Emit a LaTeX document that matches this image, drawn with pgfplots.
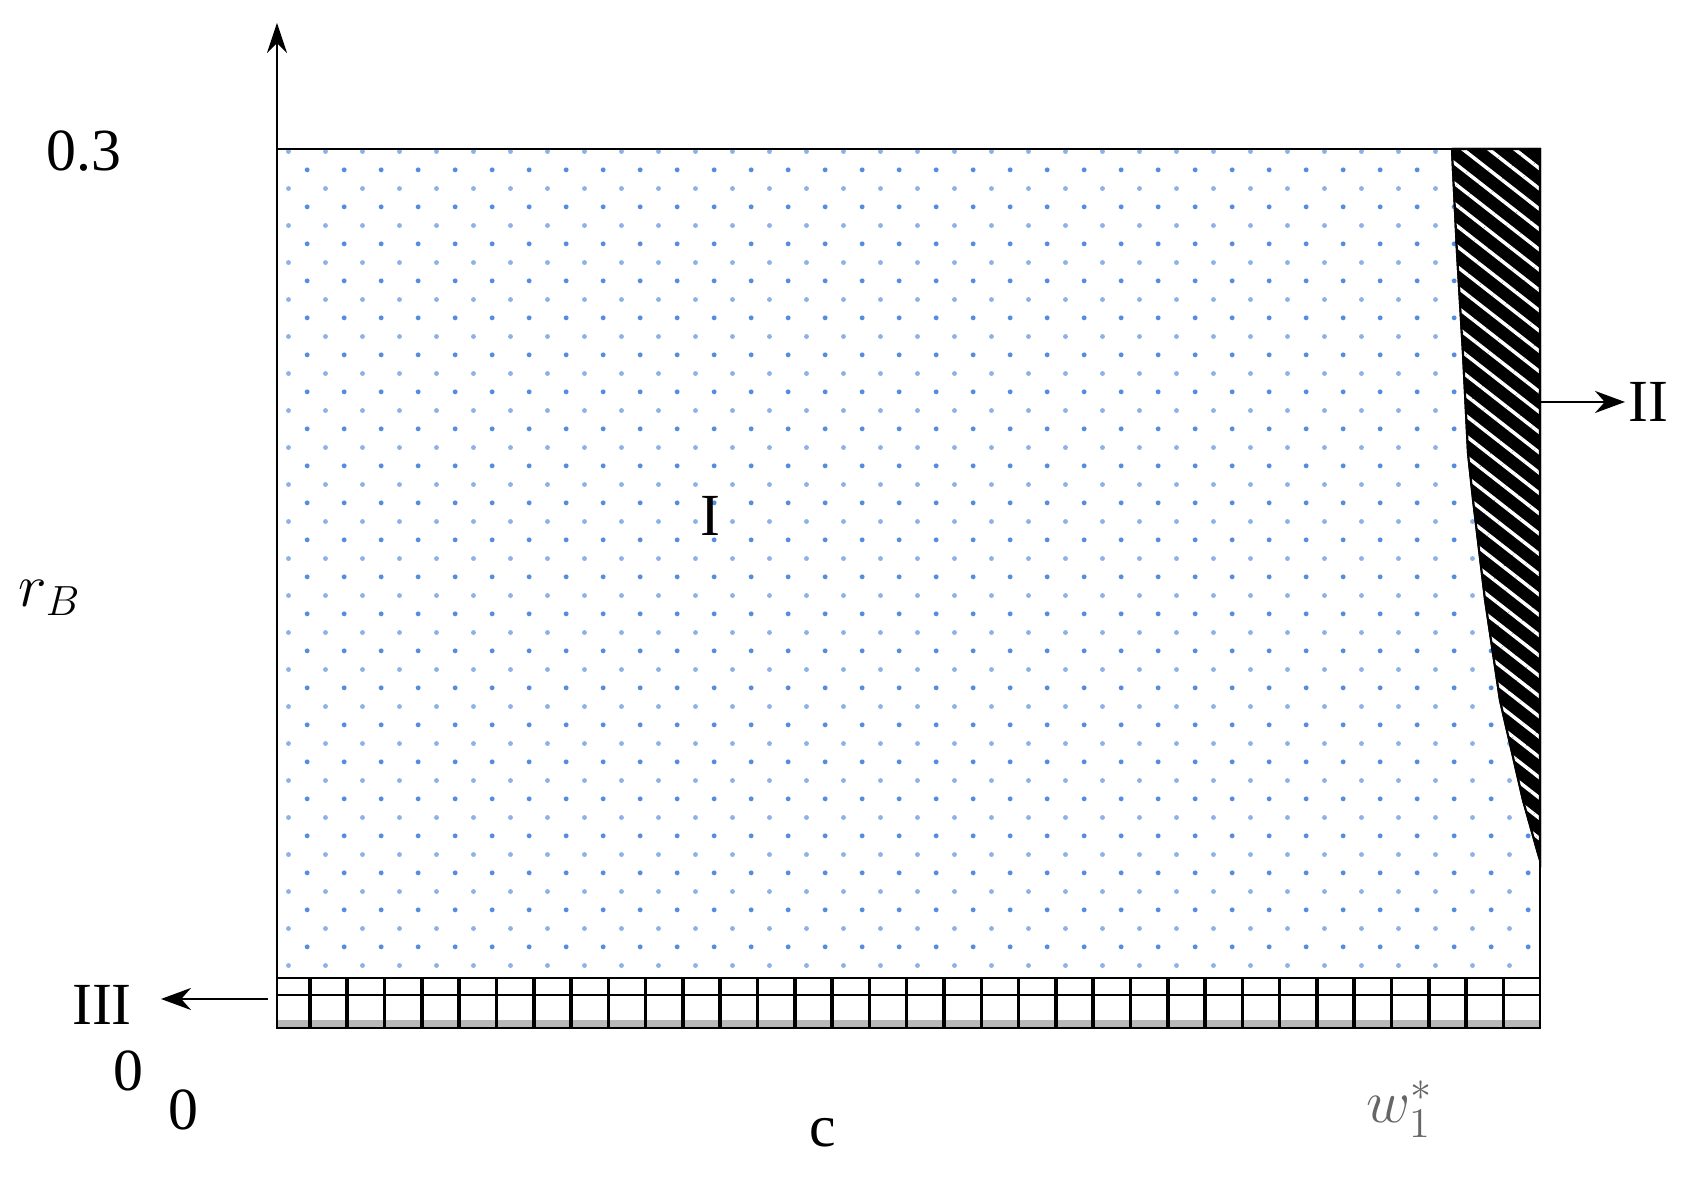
\documentclass[border=0pt]{standalone}
\usepackage{fontspec}
\setmainfont{Liberation Serif}
\usepackage{pgfplots}
\pgfplotsset{compat=1.18}
\usetikzlibrary{arrows.meta,patterns.meta}
\definecolor{dotblue}{RGB}{85,140,222}
\definecolor{dotlight}{RGB}{140,178,232}
\pgfdeclarepattern{
  name=bluedots,
  type=colored,
  bottom left={\pgfpoint{0cm}{0cm}},
  top right={\pgfpoint{0.373cm}{0.373cm}},
  tile size={\pgfpoint{0.373cm}{0.373cm}},
  code={
    \pgfsetfillcolor{dotblue}
    \pgfpathcircle{\pgfpoint{0.0933cm}{0.0933cm}}{0.025cm}
    \pgfusepath{fill}
    \pgfsetfillcolor{dotlight}
    \pgfpathcircle{\pgfpoint{0.28cm}{0.28cm}}{0.025cm}
    \pgfusepath{fill}
  }
}
\begin{document}
\begin{tikzpicture}
\fontsize{17}{20}\selectfont
\path[use as bounding box] (-2.77,-1.51) rectangle (14.15,10.28);
\begin{axis}[at={(0,0)}, anchor=south west, scale only axis,
  width=12.63cm, height=8.79cm,
  xmin=0, xmax=1, ymin=0, ymax=0.3,
  xtick=\empty, ytick=\empty,
  axis line style={line width=0.8pt},
  axis on top, clip=false]
% region I (dots)
\addplot[draw=none, pattern=bluedots] coordinates {(0,0.01706) (1,0.01706) (1,0.3) (0,0.3) (0,0.01706)};
% region II (hatched)
\addplot[draw=black, line width=0.6pt, fill=black,
  postaction={pattern={Lines[angle=-38,distance=0.16cm,line width=1pt]}, pattern color=white}]
  coordinates {(0.9303,0.3) (0.9343,0.2645) (0.9390,0.2304) (0.9430,0.1962) (0.9470,0.1802)
  (0.9565,0.1461) (0.9683,0.1119) (0.9865,0.0778) (0.9976,0.0608) (1,0.0573) (1,0.3) (0.9303,0.3)};
% region III (grid band)
\addplot[draw=none, fill=gray!55] coordinates {(0,0) (1,0) (1,0.0027) (0,0.0027) (0,0)};
\addplot[black, line width=0.8pt] coordinates {(0,0.01126) (1,0.01126)};
\addplot[black, line width=0.8pt] coordinates {(0,0.01706) (1,0.01706)};
\addplot[ycomb, black, line width=1pt, mark=none] coordinates {
(0.0261,0.01706) (0.0556,0.01706) (0.0852,0.01706) (0.1147,0.01706) (0.1442,0.01706)
(0.1738,0.01706) (0.2033,0.01706) (0.2328,0.01706) (0.2623,0.01706) (0.2919,0.01706)
(0.3214,0.01706) (0.3509,0.01706) (0.3805,0.01706) (0.4100,0.01706) (0.4395,0.01706)
(0.4691,0.01706) (0.4986,0.01706) (0.5281,0.01706) (0.5576,0.01706) (0.5872,0.01706)
(0.6167,0.01706) (0.6462,0.01706) (0.6758,0.01706) (0.7053,0.01706) (0.7348,0.01706)
(0.7644,0.01706) (0.7939,0.01706) (0.8234,0.01706) (0.8529,0.01706) (0.8825,0.01706)
(0.9120,0.01706) (0.9415,0.01706) (0.9711,0.01706)};
\end{axis}
% arrows
\draw[line width=0.8pt, -{Stealth[length=0.3cm,width=0.2cm]}] (0,8.79) -- (0,10.05);
\draw[line width=0.8pt, -{Stealth[length=0.3cm,width=0.22cm]}] (12.63,6.26) -- (13.48,6.26);
\draw[line width=0.8pt, -{Stealth[length=0.3cm,width=0.22cm]}] (-0.09,0.29) -- (-1.16,0.29);
% labels
\node at (-1.93,8.77) {0.3};
\node at (-2.27,4.30) {$r_B$};
\node at (-1.75,0.23) {III};
\node at (-1.49,-0.43) {0};
\node at (-0.94,-0.82) {0};
\node at (5.46,-1.05) {c};
\node[text=black!60] at (11.23,-0.81) {$w_1^*$};
\node at (13.71,6.26) {II};
\node at (4.33,5.12) {I};
\end{tikzpicture}
\end{document}
